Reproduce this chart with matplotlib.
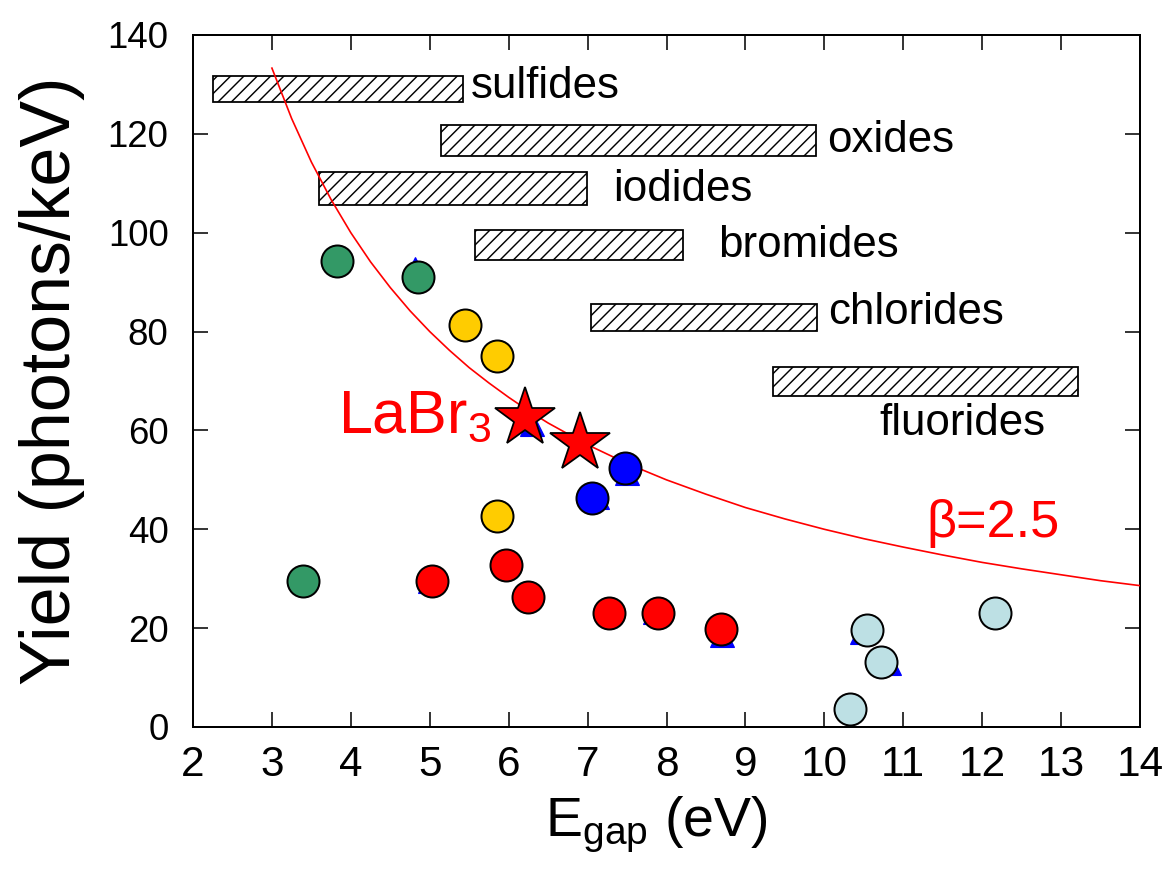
import matplotlib
matplotlib.use("Agg")
import matplotlib.pyplot as plt
from matplotlib.patches import Rectangle

# ------------------------------------------------------------
# data
# ------------------------------------------------------------

# hatched ranges per halide / chalcogenide family
band_names = ["sulfides", "oxides", "iodides", "bromides", "chlorides", "fluorides"]
band_x_lo = [2.25, 5.14, 3.60, 5.57, 7.04, 9.35]
band_x_hi = [5.42, 9.89, 6.99, 8.21, 9.91, 13.21]
band_y_lo = [126.4, 115.6, 105.7, 94.5, 80.2, 66.9]
band_y_hi = [131.8, 121.8, 112.2, 100.6, 85.5, 72.9]
label_x = [5.52, 10.03, 7.32, 8.65, 10.05, 10.70]
label_y = [127.3, 116.4, 106.5, 95.0, 81.6, 59.0]

# beta = 2.5 limit curve (read at regular steps)
curve_e = [3.0, 3.25, 3.5, 3.75, 4.0, 4.25, 4.5, 4.75, 5.0, 5.25, 5.5, 5.75,
           6.0, 6.25, 6.5, 7.0, 7.5, 8.0, 8.5, 9.0, 9.5, 10.0, 10.5, 11.0,
           11.5, 12.0, 12.5, 13.0, 13.5, 14.0]
curve_y = [133.3, 123.1, 114.3, 106.7, 100.0, 94.1, 88.9, 84.2, 80.0, 76.2,
           72.7, 69.6, 66.7, 64.0, 61.5, 57.1, 53.3, 50.0, 47.1, 44.4, 42.1,
           40.0, 38.1, 36.4, 34.8, 33.3, 32.0, 30.8, 29.6, 28.6]

# measured scintillators, grouped by marker colour
green_e = [3.82, 4.85, 3.40]
green_y = [94.3, 91.1, 29.6]
yellow_e = [5.45, 5.85, 5.85]
yellow_y = [81.3, 75.0, 42.6]
blue_e = [7.48, 7.06]
blue_y = [52.3, 46.3]
red_e = [5.03, 5.96, 6.25, 7.27, 7.89, 8.69]
red_y = [29.5, 32.8, 26.4, 23.1, 23.1, 19.8]
cyan_e = [10.54, 10.72, 10.33, 12.16]
cyan_y = [19.7, 13.1, 3.6, 23.1]

# LaBr3 stars
labr_e = [6.21, 6.91]
labr_y = [62.6, 57.4]

# small blue triangles mostly hidden behind the circles
tri_e = [4.81, 6.30, 7.50, 7.12, 8.70, 5.00, 7.85, 10.48, 10.82]
tri_y = [92.6, 61.2, 51.4, 46.5, 18.6, 29.6, 23.2, 19.3, 13.0]

# ------------------------------------------------------------
# figure
# ------------------------------------------------------------
DPI = 80
plt.rcParams["font.family"] = ["Liberation Sans", "DejaVu Sans"]
plt.rcParams["mathtext.fontset"] = "custom"
plt.rcParams["mathtext.rm"] = "Liberation Sans"
plt.rcParams["mathtext.it"] = "Liberation Sans"
plt.rcParams["hatch.linewidth"] = 1.3

fig = plt.figure(figsize=(1166 / DPI, 872 / DPI), dpi=DPI)
ax = fig.add_axes([193 / 1166, 1 - 727 / 872, (1140 - 193) / 1166, (727 - 35) / 872])

for name, x0, x1, y0, y1, lx, ly in zip(band_names, band_x_lo, band_x_hi,
                                         band_y_lo, band_y_hi, label_x, label_y):
    ax.add_patch(Rectangle((x0, y0), x1 - x0, y1 - y0, facecolor="white",
                           edgecolor="black", hatch="//", linewidth=1.6, zorder=2))
    ax.text(lx, ly, name, fontsize=39.5, ha="left", va="baseline", zorder=5)

ax.plot(curve_e, curve_y, color="#ff0000", linewidth=1.5, zorder=3)

mk = dict(linestyle="none", marker="o", markersize=28.8,
          markeredgecolor="black", markeredgewidth=1.8, zorder=6)
ax.plot(tri_e, tri_y, linestyle="none", marker="^", markersize=21,
        color="#0000ff", zorder=4)
ax.plot(green_e, green_y, markerfacecolor="#339966", **mk)
ax.plot(yellow_e, yellow_y, markerfacecolor="#ffcc00", **mk)
ax.plot(blue_e, blue_y, markerfacecolor="#0000ff", **mk)
ax.plot(red_e, red_y, markerfacecolor="#ff0000", **mk)
ax.plot(cyan_e, cyan_y, markerfacecolor="#bde0e4", **mk)
ax.plot(labr_e, labr_y, linestyle="none", marker="*", markersize=56,
        markerfacecolor="#ff0000", markeredgecolor="black",
        markeredgewidth=1.6, zorder=7)

ax.text(3.84, 59.6, r"LaBr$_3$", color="#ff0000", fontsize=55,
        ha="left", va="baseline", zorder=8)
ax.text(11.29, 38.4, "β=2.5", color="#ff0000", fontsize=47,
        ha="left", va="baseline", zorder=8)

ax.set_xlim(2, 14)
ax.set_ylim(0, 140)
ax.set_xticks(range(2, 15))
ax.set_yticks(range(0, 141, 20))
ax.tick_params(axis="both", direction="in", top=True, right=True,
               length=13.5, width=1.4)
ax.tick_params(axis="x", labelsize=38, pad=16)
ax.tick_params(axis="y", labelsize=33, pad=22)
for s in ax.spines.values():
    s.set_linewidth(1.8)

ax.set_xlabel(r"E$_{\mathrm{gap}}$ (eV)", fontsize=50)
ax.xaxis.set_label_coords(0.489, -0.098)
ax.set_ylabel("Yield (photons/keV)", fontsize=63)
ax.yaxis.set_label_coords(-0.114, 0.5)

fig.savefig("out.png", dpi=DPI)
